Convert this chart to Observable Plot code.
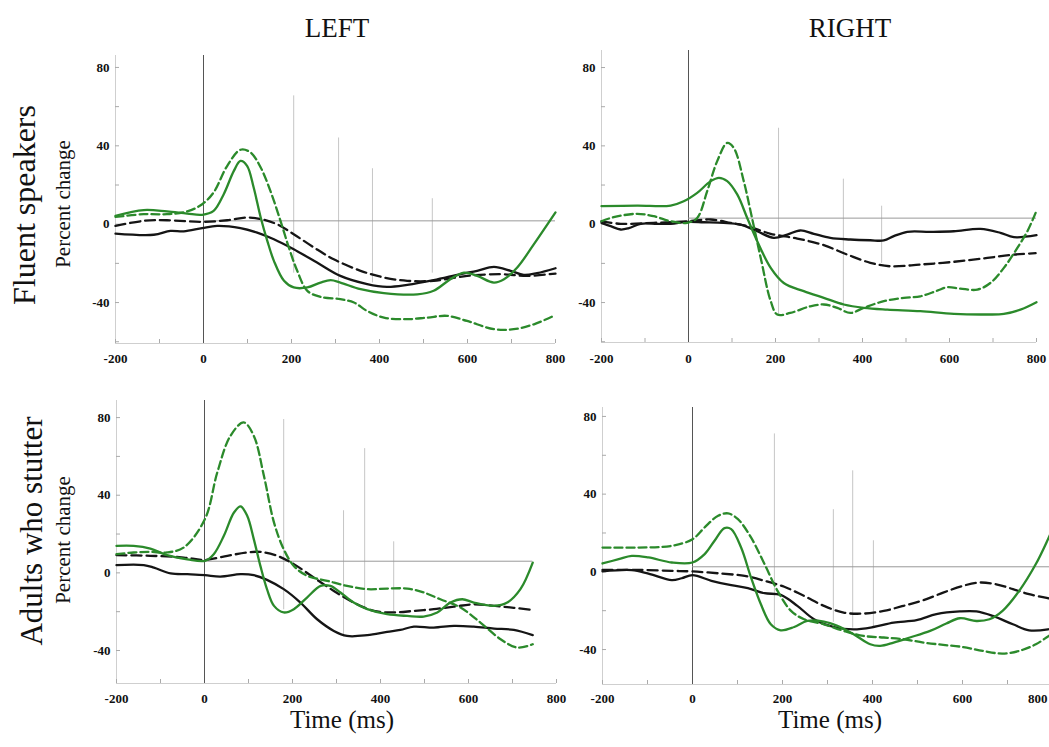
<!DOCTYPE html>
<html><head><meta charset="utf-8">
<script src="https://cdn.jsdelivr.net/npm/d3@7"></script>
<script src="https://cdn.jsdelivr.net/npm/@observablehq/plot@0.6"></script>
<style>
body{margin:0;background:#fff;overflow:hidden}
#root{position:relative;width:1049px;height:747px;overflow:hidden;font-family:"Liberation Serif","DejaVu Serif",serif;background:#fff}
.lbl{position:absolute;white-space:nowrap;color:#111;line-height:1}
.rot{transform:translate(-50%,-50%) rotate(-90deg)}
.ctr{transform:translate(-50%,-50%)}
#root svg{position:absolute}
</style></head><body><div id="root"></div>
<script>
// ---------- data (time in ms, value in percent change) ----------
const xLabelTicks = [-200, 0, 200, 400, 600, 800];
const xMinorTicks = [-200, -100, 0, 100, 200, 300, 400, 500, 600, 700, 800];
const yLabelTicks = [-40, 0, 40, 80];
const yMinorTicks = [-60, -40, -20, 0, 20, 40, 60, 80];

// Fluent speakers, LEFT
const fluentLeftBlackSolid = [[-200,-4.8],[-113,-5.4],[-75,-3.4],[-45,-3.7],[-3,-2],[31,-0.9],[84,-2],[122,-4.3],[160,-7.7],[205,-12.8],[258,-19.6],[311,-26.4],[372,-30.6],[417,-32],[463,-31],[523,-28.6],[584,-25.5],[622,-23.8],[660,-21.8],[698,-23.8],[728,-25.9],[758,-25],[800,-22.5]];
const fluentLeftBlackDashed = [[-200,-0.9],[-136,1.7],[-83,2],[-3,1.2],[54,2],[99,3.4],[130,2.6],[167,0],[205,-5.1],[251,-11.9],[296,-17.9],[357,-23.8],[410,-27.2],[463,-28.9],[523,-28.9],[599,-26.4],[675,-25.5],[736,-26.4],[800,-25.2]];
const fluentLeftGreenSolid = [[-200,4.3],[-136,7.2],[-83,6.5],[-37,5.4],[-3,4.8],[23,6.8],[46,15.3],[69,27.2],[84,32.3],[99,29.8],[114,18.7],[130,3.4],[145,-8.5],[160,-18.7],[183,-28.9],[205,-32.3],[236,-32.3],[266,-29.8],[289,-28.6],[311,-29.8],[357,-33.2],[410,-35.2],[486,-35.8],[523,-34],[561,-28.1],[592,-24.7],[622,-26.4],[660,-29.8],[683,-28.1],[713,-22.1],[751,-10.2],[800,6]];
const fluentLeftGreenDashed = [[-200,3.7],[-136,5.1],[-83,5.1],[-37,6.5],[-3,10.2],[23,16.2],[54,29.8],[84,38],[107,36.6],[130,28.9],[152,17],[175,1.7],[194,-11.9],[213,-23.8],[236,-34],[266,-37.1],[311,-38.3],[342,-40],[372,-44.3],[410,-47.7],[463,-48.5],[508,-47.7],[554,-46.8],[599,-49.4],[660,-53.6],[705,-53.6],[751,-51.1],[796,-46.8]];

// Fluent speakers, RIGHT
const fluentRightBlackSolid = [[-200,0.7],[-179,-1],[-156,-2.7],[-137,-2],[-110,0.2],[-72,0.2],[-41,0.2],[-3,1.2],[35,1],[81,0.7],[120,-0.2],[158,-3.6],[196,-7],[227,-5.3],[257,-3.2],[288,-4.9],[326,-7],[372,-7.8],[418,-8.2],[449,-8.3],[472,-6.1],[503,-3.9],[556,-3.9],[610,-3.6],[671,-2.4],[717,-4.4],[748,-6.6],[800,-5.6]];
const fluentRightBlackDashed = [[-200,1.5],[-156,0.2],[-80,0.7],[-3,1.5],[51,2.4],[97,0.7],[135,-1],[189,-4.9],[250,-7.3],[311,-10.7],[365,-15.5],[418,-19.7],[464,-21.5],[533,-20.6],[610,-19.2],[687,-17.2],[748,-15.5],[798,-14.8]];
const fluentRightGreenSolid = [[-200,9.2],[-118,9.5],[-41,9.5],[-11,11.7],[20,16],[51,22],[70,23.7],[89,22],[112,15.2],[135,3.2],[158,-8.7],[189,-22.3],[219,-30],[265,-34.2],[311,-37.6],[357,-41],[403,-42.7],[457,-43.6],[533,-44.4],[610,-45.8],[687,-46.1],[725,-45.8],[763,-43.6],[800,-39.8]];
const fluentRightGreenDashed = [[-200,1.5],[-172,3.6],[-118,5.3],[-80,4.1],[-41,1.5],[-3,0.7],[20,3.2],[43,16.9],[66,32.2],[89,41.5],[104,39],[127,22],[146,3.2],[166,-17.2],[189,-39.3],[204,-46.1],[234,-45.3],[280,-41.9],[311,-41],[342,-42.7],[372,-45.3],[403,-42.7],[449,-39.3],[495,-37.6],[533,-36.8],[572,-33.9],[595,-32.2],[625,-32.9],[664,-33.4],[694,-30],[725,-22.3],[756,-12.1],[779,-3.6],[798,5.8]];

// Adults who stutter, LEFT
const stutterLeftBlackSolid = [[-200,4],[-138,4],[-115,2.7],[-77,-0.3],[-39,-0.7],[1,-1.2],[36,-1.9],[82,-0.7],[112,-1.2],[142,-3.6],[180,-8.4],[218,-15.3],[256,-23.9],[294,-29.9],[324,-32.5],[370,-32.1],[415,-30.4],[445,-29.4],[476,-27.7],[521,-28.2],[567,-27.3],[612,-27.7],[658,-28.7],[703,-29.4],[746,-32.1]];
const stutterLeftBlackDashed = [[-200,9.1],[-123,8.8],[-47,7.9],[1,6.7],[52,8.8],[97,10.5],[127,10.8],[165,8.8],[203,4.5],[248,-2.4],[294,-9.3],[339,-15.3],[385,-19.6],[430,-20.4],[476,-19.6],[521,-18.7],[567,-17.4],[612,-16.2],[658,-17],[703,-18],[746,-19.1]];
const stutterLeftGreenSolid = [[-200,13.9],[-161,13.9],[-123,12.5],[-85,9.1],[-39,7],[1,6.2],[21,9.6],[44,19.1],[67,31.1],[82,34.2],[97,29.4],[112,17.4],[127,3.6],[142,-8.4],[158,-17],[180,-20.4],[203,-18.7],[233,-12.7],[264,-6.7],[286,-6.7],[309,-10.1],[339,-15.3],[370,-18.7],[415,-21.3],[461,-22.2],[498,-22.5],[529,-20.4],[559,-15.3],[586,-13.6],[612,-15.3],[658,-17],[688,-15.3],[718,-8.4],[746,5.3]];
const stutterLeftGreenDashed = [[-200,9.6],[-161,10.5],[-123,10.8],[-85,10.5],[-47,13.1],[1,27.7],[29,51.7],[59,70.6],[89,77.5],[112,70.6],[135,50],[158,25.9],[180,12.2],[203,3.6],[233,-1.5],[279,-4.1],[324,-6.7],[370,-8.4],[415,-8.1],[461,-8.1],[498,-10.1],[536,-13.6],[582,-17.9],[627,-25.6],[673,-34.2],[711,-38.5],[746,-36.8]];

// Adults who stutter, RIGHT
const stutterRightBlackSolid = [[-200,0.2],[-135,0.9],[-98,-0.9],[-46,-4.3],[-24,-3.3],[0,-1.7],[42,-4.6],[86,-6.9],[123,-8.4],[160,-11],[196,-11.9],[233,-17.5],[270,-24.4],[314,-28.4],[358,-29.6],[402,-28.4],[447,-26.1],[498,-24.9],[542,-21.8],[594,-20.4],[631,-20.4],[667,-22.7],[712,-27],[748,-30.1],[790,-29.6],[800,-29]];
const stutterRightBlackDashed = [[-200,1],[-120,1],[-46,0.5],[0,0.2],[64,-0.9],[116,-2.1],[160,-4.6],[204,-7.7],[248,-12.4],[292,-17.5],[336,-21],[380,-21.5],[425,-20.1],[469,-17.5],[513,-14.6],[557,-10.7],[601,-7.2],[638,-5.5],[675,-6.4],[712,-8.9],[748,-11.5],[790,-13.6],[800,-14]];
const stutterRightGreenSolid = [[-200,4.3],[-164,6.5],[-135,8.2],[-98,7.4],[-46,4.8],[0,4.8],[27,9.1],[49,16],[71,22.5],[86,22],[108,12.5],[130,-2.9],[152,-16.7],[174,-27],[196,-30.1],[226,-28.4],[255,-25.3],[292,-25.6],[322,-27.8],[358,-32.1],[395,-37.3],[417,-38.1],[447,-36.4],[483,-33.8],[528,-30.4],[564,-26.6],[594,-23.9],[631,-25.3],[660,-24.4],[689,-20.1],[726,-9.8],[763,4],[790,16.8],[800,22]];
const stutterRightGreenDashed = [[-200,12.5],[-120,12.5],[-46,13.4],[0,16.8],[27,22.9],[57,28.9],[79,30.1],[101,27.1],[130,17.7],[160,4],[189,-9.8],[219,-20.1],[248,-24.4],[292,-27],[336,-30.4],[380,-33],[425,-33.8],[469,-34.7],[513,-36.4],[557,-37.6],[601,-38.7],[645,-40.7],[689,-42.1],[726,-40.7],[763,-37.3],[790,-33.3],[800,-32]];

// vertical marker lines: [time, top, bottom]
const fluentLeftMarkers = [[205,65.5,-25],[307,44,-37],[384,28.3,-30],[520,13,-25]];
const fluentRightMarkers = [[207,49,-46],[356,23,-43],[444,9.2,-20]];
const stutterLeftMarkers = [[180,79,-19],[316,32,-33],[364,64,-19],[430,16,-20]];
const stutterRightMarkers = [[182,71,-29],[313,32,-26],[356,52,-29],[402,16,-29]];

// baseline level and its end time per panel
const baselineLevels = {fluentLeft: 1.7, fluentRight: 3.1, stutterLeft: 6, stutterRight: 2.6};
const baselineEnds = {fluentLeft: 800, fluentRight: 800, stutterLeft: 746, stutterRight: 800};

// ---------- styling ----------
const GREEN = "#2b8a2b", BLACK = "#151515";
const SERIF = "'Liberation Serif', 'DejaVu Serif', serif";
const seriesStyle = [
  {stroke: BLACK, dash: null},
  {stroke: BLACK, dash: "10,5"},
  {stroke: GREEN, dash: null},
  {stroke: GREEN, dash: "8,4"}
];
const toRows = arr => arr.map(([t, v]) => ({t, v}));

const root = document.getElementById("root");

function panel(cfg) {
  const mL = 50, mR = 25, mT = 12, mB = 30;
  const {x0, x1, y0, y1} = cfg.frame;
  const lines = cfg.series.map((s, i) => Plot.line(toRows(s), {
    x: "t", y: "v", curve: "catmull-rom",
    stroke: seriesStyle[i].stroke,
    strokeWidth: 2.3,
    strokeDasharray: seriesStyle[i].dash
  }));
  const markers = cfg.markers.map(([t, top, bottom]) => ({t, top, bottom}));
  const yMinor = yMinorTicks.filter(v => v >= cfg.yDomain[0] && v <= cfg.yDomain[1]);
  const labelStyle = {tickSize: 0, fontWeight: "bold", fontSize: 13, fontFamily: SERIF, fill: "#111", tickFormat: d => String(d)};
  const xLabelMarks = cfg.lastLabelEnd
    ? [Plot.axisX({...labelStyle, ticks: xLabelTicks.slice(0, -1), tickPadding: cfg.xPad}),
       Plot.axisX({...labelStyle, ticks: xLabelTicks.slice(-1), tickPadding: cfg.xPad, textAnchor: "end", dx: -5})]
    : [Plot.axisX({...labelStyle, ticks: xLabelTicks, tickPadding: cfg.xPad})];
  const chart = Plot.plot({
    width: x1 - x0 + mL + mR,
    height: y1 - y0 + mT + mB,
    marginLeft: mL, marginRight: mR, marginTop: mT, marginBottom: mB,
    x: {domain: [-200, 800], label: null},
    y: {domain: cfg.yDomain, label: null},
    style: {background: "transparent", fontFamily: SERIF, overflow: "visible", color: "#111"},
    marks: [
      Plot.ruleY([cfg.yDomain[0]], {stroke: "#cfcfcf"}),
      Plot.ruleX([-200], {stroke: "#cfcfcf"}),
      Plot.axisX({ticks: xMinorTicks, tickSize: -4, tickFormat: () => "", stroke: "#aaa"}),
      ...xLabelMarks,
      Plot.axisY({ticks: yMinor, tickSize: -4, tickFormat: () => "", stroke: "#aaa"}),
      Plot.axisY({...labelStyle, ticks: yLabelTicks, tickPadding: 6}),
      Plot.ruleX(markers, {x: "t", y1: "top", y2: "bottom", stroke: "#c6c6c6", strokeWidth: 1}),
      Plot.ruleX([0], {stroke: "#555", strokeWidth: 1}),
      Plot.ruleY([cfg.baseline], {x1: 0, x2: cfg.baselineEnd, stroke: "#999", strokeWidth: 1}),
      ...lines
    ]
  });
  chart.style.left = (x0 - mL) + "px";
  chart.style.top = (y0 - mT) + "px";
  chart.style.maxWidth = "none";
  root.appendChild(chart);
}

panel({frame: {x0: 115, x1: 555, y0: 55, y1: 343}, yDomain: [-60.9, 86.1], xPad: 10,
  series: [fluentLeftBlackSolid, fluentLeftBlackDashed, fluentLeftGreenSolid, fluentLeftGreenDashed],
  markers: fluentLeftMarkers, baseline: baselineLevels.fluentLeft, baselineEnd: baselineEnds.fluentLeft});
panel({frame: {x0: 601, x1: 1036, y0: 50, y1: 342}, yDomain: [-60.4, 88.7], xPad: 11,
  series: [fluentRightBlackSolid, fluentRightBlackDashed, fluentRightGreenSolid, fluentRightGreenDashed],
  markers: fluentRightMarkers, baseline: baselineLevels.fluentRight, baselineEnd: baselineEnds.fluentRight});
panel({frame: {x0: 116, x1: 556, y0: 400, y1: 683}, yDomain: [-57, 88.8], xPad: 10,
  series: [stutterLeftBlackSolid, stutterLeftBlackDashed, stutterLeftGreenSolid, stutterLeftGreenDashed],
  markers: stutterLeftMarkers, baseline: baselineLevels.stutterLeft, baselineEnd: baselineEnds.stutterLeft});
panel({frame: {x0: 602, x1: 1052, y0: 407, y1: 684}, yDomain: [-58, 84.6], xPad: 9, lastLabelEnd: true,
  series: [stutterRightBlackSolid, stutterRightBlackDashed, stutterRightGreenSolid, stutterRightGreenDashed],
  markers: stutterRightMarkers, baseline: baselineLevels.stutterRight, baselineEnd: baselineEnds.stutterRight});

// ---------- text labels ----------
function label(text, x, y, size, rotate) {
  const d = document.createElement("div");
  d.className = "lbl " + (rotate ? "rot" : "ctr");
  d.textContent = text;
  d.style.left = x + "px";
  d.style.top = y + "px";
  d.style.fontSize = size + "px";
  root.appendChild(d);
}
label("LEFT", 337, 28, 27);
label("RIGHT", 850, 28, 27);
label("Fluent speakers", 24, 205, 32, true);
label("Percent change", 63, 204, 21, true);
label("Adults who stutter", 31, 531, 31, true);
label("Percent change", 63, 540, 21, true);
label("Time (ms)", 342, 719, 25);
label("Time (ms)", 830, 719, 25);
</script>
</body></html>
